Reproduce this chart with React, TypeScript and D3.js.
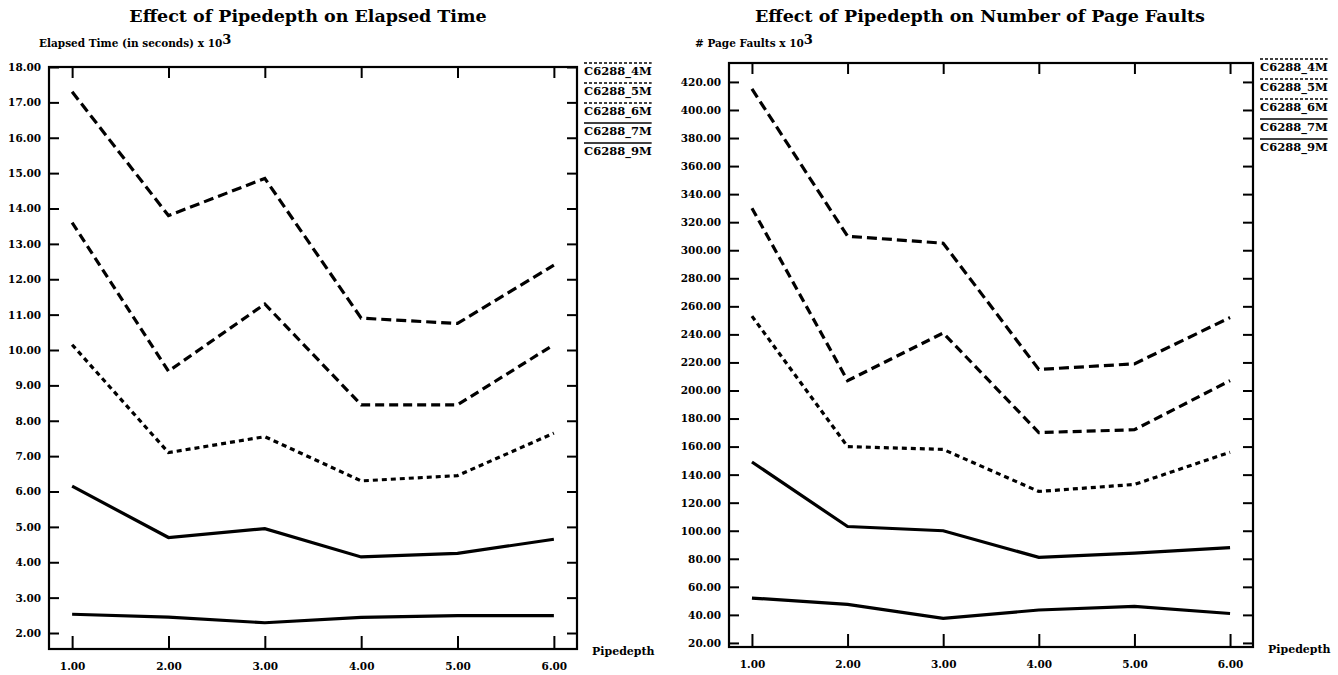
import { useEffect, useRef } from 'react'
import * as d3 from 'd3'

const PIPEDEPTH = [1, 2, 3, 4, 5, 6]
const SERIES_NAMES = ['C6288_4M', 'C6288_5M', 'C6288_6M', 'C6288_7M', 'C6288_9M']
const SERIES_DASH = ['10,5', '9,5', '5,4', null, null]

// elapsed time (seconds x 10^3)
const TIME_4M = [17.3, 13.8, 14.85, 10.9, 10.75, 12.4]
const TIME_5M = [13.6, 9.4, 11.3, 8.45, 8.45, 10.15]
const TIME_6M = [10.15, 7.1, 7.55, 6.3, 6.45, 7.65]
const TIME_7M = [6.15, 4.7, 4.95, 4.15, 4.25, 4.65]
const TIME_9M = [2.53, 2.45, 2.29, 2.44, 2.49, 2.49]
const TIME_TICKS = d3.range(2, 18.5, 1)

// page faults x 10^3
const FAULTS_4M = [415, 310, 305, 215, 219, 252]
const FAULTS_5M = [330, 207, 241, 170, 172, 207]
const FAULTS_6M = [253, 160, 158, 128, 133, 156]
const FAULTS_7M = [149, 103, 100, 81, 84, 88]
const FAULTS_9M = [52, 47.5, 37.5, 43.5, 46, 41]
const FAULT_TICKS = d3.range(20, 421, 20)

const FONT = '"DejaVu Serif", "Liberation Serif", serif'

function drawChart(svg, cfg) {
  const { left, right, top, bottom } = cfg
  const g = svg.append('g')

  const x = d3.scaleLinear().domain([0.76, 6.24]).range([left, right])
  const y = d3.scaleLinear().domain(cfg.yDomain).range([bottom, top])
  const fmt = d3.format('.2f')

  // frame
  g.append('rect')
    .attr('x', left).attr('y', top)
    .attr('width', right - left).attr('height', bottom - top)
    .attr('fill', 'none').attr('stroke', '#000').attr('stroke-width', 2.2)

  const styleAxis = (sel) => {
    sel.select('.domain').remove()
    sel.selectAll('line').attr('stroke', '#000').attr('stroke-width', 2)
    sel.selectAll('text')
      .attr('font-family', FONT).attr('font-size', 10.5)
      .attr('font-weight', 700).attr('fill', '#000')
  }

  g.append('g').attr('transform', `translate(${left},0)`)
    .call(d3.axisLeft(y).tickValues(cfg.yTicks).tickSize(-10).tickPadding(8).tickFormat(fmt))
    .call(styleAxis)
  g.append('g').attr('transform', `translate(${right},0)`)
    .call(d3.axisRight(y).tickValues(cfg.yTicks).tickSize(-10).tickFormat(() => ''))
    .call(styleAxis)
  g.append('g').attr('transform', `translate(0,${top})`)
    .call(d3.axisTop(x).tickValues(PIPEDEPTH).tickSize(-11).tickFormat(() => ''))
    .call(styleAxis)
  g.append('g').attr('transform', `translate(0,${bottom})`)
    .call(d3.axisBottom(x).tickValues(PIPEDEPTH).tickSize(-13).tickPadding(14).tickFormat(fmt))
    .call(styleAxis)

  // series lines
  const line = d3.line().x((d, i) => x(PIPEDEPTH[i])).y((d) => y(d))
  cfg.series.forEach((vals, i) => {
    g.append('path')
      .attr('d', line(vals))
      .attr('fill', 'none')
      .attr('stroke', '#000')
      .attr('stroke-width', 3.2)
      .attr('stroke-dasharray', SERIES_DASH[i])
  })

  // legend
  SERIES_NAMES.forEach((name, i) => {
    const ly = top + 4 + i * 20
    const t = g.append('text')
      .attr('x', right + 7).attr('y', ly).attr('dy', '0.35em')
      .attr('font-family', FONT).attr('font-size', 11.5).attr('font-weight', 700)
      .text(name)
    const w = t.node().getComputedTextLength()
    g.append('line')
      .attr('x1', right + 7).attr('x2', right + 7 + w)
      .attr('y1', ly - 8).attr('y2', ly - 8)
      .attr('stroke', '#000').attr('stroke-width', 1.5)
      .attr('stroke-dasharray', SERIES_DASH[i] ? '3,2' : null)
  })

  // x axis label
  g.append('text')
    .attr('x', right + 15).attr('y', bottom + 2).attr('dy', '0.35em')
    .attr('font-family', FONT).attr('font-size', 11).attr('font-weight', 700)
    .text('Pipedepth')

  // y axis label
  const yl = g.append('text')
    .attr('x', cfg.yLabelX).attr('y', 47)
    .attr('font-family', FONT).attr('font-size', 10.5).attr('font-weight', 700)
  yl.append('tspan').text(cfg.yLabel)
  yl.append('tspan').attr('font-size', 13).attr('dy', -3).text('3')

  // title
  g.append('text')
    .attr('x', cfg.titleX).attr('y', 22)
    .attr('text-anchor', 'middle')
    .attr('font-family', FONT).attr('font-size', 17.5).attr('font-weight', 700)
    .text(cfg.title)
}

export default function App() {
  const svgRef = useRef(null)

  useEffect(() => {
    const svg = d3.select(svgRef.current)
    svg.selectAll('*').remove()

    drawChart(svg, {
      left: 49, right: 577, top: 67, bottom: 649,
      yDomain: [1.548, 18],
      yTicks: TIME_TICKS,
      series: [TIME_4M, TIME_5M, TIME_6M, TIME_7M, TIME_9M],
      title: 'Effect of Pipedepth on Elapsed Time',
      titleX: 308,
      yLabel: 'Elapsed Time (in seconds) x 10',
      yLabelX: 39,
    })

    drawChart(svg, {
      left: 729, right: 1253, top: 63, bottom: 647,
      yDomain: [17.1, 433.5],
      yTicks: FAULT_TICKS,
      series: [FAULTS_4M, FAULTS_5M, FAULTS_6M, FAULTS_7M, FAULTS_9M],
      title: 'Effect of Pipedepth on Number of Page Faults',
      titleX: 980,
      yLabel: '# Page Faults x 10',
      yLabelX: 695,
    })
  }, [])

  return (
    <svg
      ref={svgRef}
      width={1338}
      height={675}
      style={{ position: 'absolute', left: 0, top: 0, background: '#fff' }}
    />
  )
}
